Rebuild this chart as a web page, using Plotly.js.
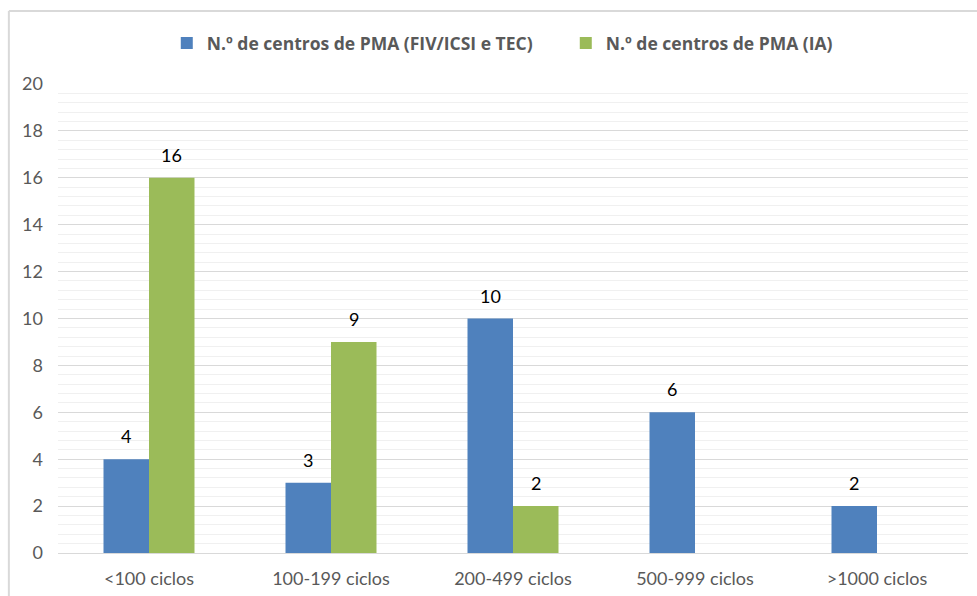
<!DOCTYPE html>
<html>
<head>
<meta charset="utf-8">
<script src="https://cdn.plot.ly/plotly-3.0.1.min.js"></script>
<style>html,body{margin:0;padding:0;background:#fff;}#chart{width:977px;height:596px;}</style>
</head>
<body>
<div id="chart"></div>
<script>
const categories = ["<100 ciclos", "100-199 ciclos", "200-499 ciclos", "500-999 ciclos", ">1000 ciclos"];
const seriesNames = ["N.º de centros de PMA (FIV/ICSI e TEC)", "N.º de centros de PMA (IA)"];
const fivValues = [4, 3, 10, 6, 2];
const iaValues = [16, 9, 2, null, null];
const yTicks = [0, 2, 4, 6, 8, 10, 12, 14, 16, 18, 20];

const FONT = "Lato, 'Open Sans', sans-serif";
const labelFont = {family: FONT, size: 18, color: "#000000"};

const traces = [
  {type: "bar", name: seriesNames[0], x: categories, y: fivValues,
   marker: {color: "#4F81BD"}, hoverinfo: "x+y"},
  {type: "bar", name: seriesNames[1], x: categories, y: iaValues,
   marker: {color: "#9BBB59"}, hoverinfo: "x+y"}
];

// data labels from the series values
const annotations = [];
const shiftPx = 22.75;
[[fivValues, -shiftPx], [iaValues, shiftPx]].forEach(([vals, dx]) => {
  vals.forEach((v, i) => {
    if (v == null) return;
    annotations.push({x: categories[i], y: v, xref: "x", yref: "y", text: String(v),
      showarrow: false, xshift: dx, yshift: 10, yanchor: "bottom", font: labelFont});
  });
});

const layout = {
  width: 977, height: 596,
  margin: {l: 58, r: 9, t: 84, b: 43},
  paper_bgcolor: "#ffffff", plot_bgcolor: "#ffffff",
  barmode: "group", bargap: 0.5, bargroupgap: 0,
  showlegend: true,
  legend: {orientation: "h", x: 0.558, xanchor: "center", xref: "paper", y: 1.087, yref: "paper", yanchor: "middle",
           bgcolor: "rgba(0,0,0,0)", entrywidth: 354, entrywidthmode: "pixels",
           font: {family: "'Open Sans', Lato, sans-serif", size: 17.5, color: "#595959", weight: "bold"}, itemwidth: 30},
  font: {family: FONT},
  annotations: annotations,
  xaxis: {type: "category", showgrid: false, zeroline: false, showline: false, ticks: "",
          tickfont: {family: FONT, size: 18, color: "#595959"}, ticklabelstandoff: 13, fixedrange: true},
  yaxis: {range: [0, 20], tickvals: yTicks, ticktext: yTicks.map(String), showgrid: true,
          gridcolor: "#d9d9d9", gridwidth: 1, zeroline: true, zerolinecolor: "#d9d9d9", zerolinewidth: 1,
          showline: false, ticks: "", tickfont: {family: FONT, size: 18, color: "#595959"},
          ticklabelstandoff: 14, fixedrange: true,
          minor: {dtick: 0.4, showgrid: true, gridcolor: "#f0f0f0", gridwidth: 1}},
  shapes: [
    {type: "line", xref: "paper", yref: "paper", x0: -0.054, x1: 1.2, y0: 1.1557, y1: 1.1557, line: {color: "#d9d9d9", width: 2}},
    {type: "line", xref: "paper", yref: "paper", x0: -0.054, x1: -0.054, y0: -0.2, y1: 1.1557, line: {color: "#d9d9d9", width: 2}}
  ]
};

Plotly.newPlot("chart", traces, layout, {displayModeBar: false, staticPlot: true});
</script>
</body>
</html>
